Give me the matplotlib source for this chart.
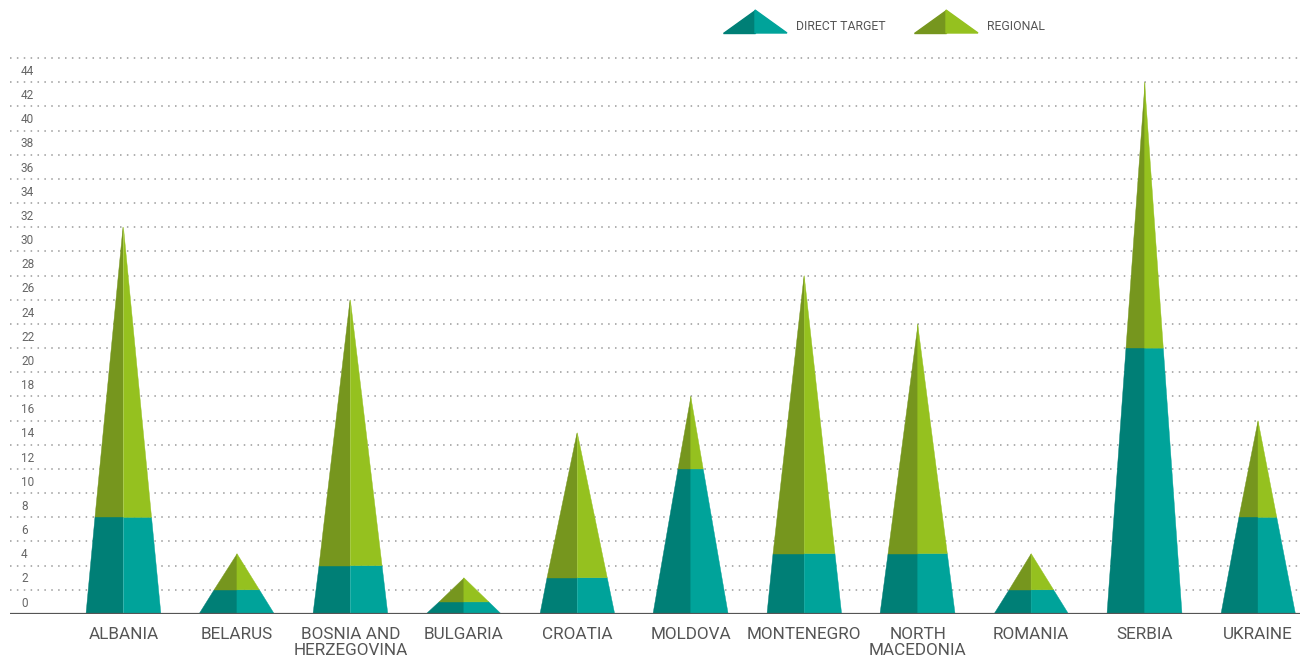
import matplotlib
matplotlib.use("Agg")
import matplotlib.pyplot as plt
import numpy as np

countries = ["ALBANIA", "BELARUS", "BOSNIA AND\nHERZEGOVINA", "BULGARIA", "CROATIA", "MOLDOVA",
             "MONTENEGRO", "NORTH\nMACEDONIA", "ROMANIA", "SERBIA", "UKRAINE"]
direct = [8, 2, 4, 1, 3, 12, 5, 5, 2, 22, 8]
regional = [24, 3, 22, 2, 12, 6, 23, 19, 3, 22, 8]
yticks = list(range(0, 46, 2))

plt.rcParams['font.family'] = ['Roboto', 'DejaVu Sans']

teal_d, teal_l = '#007f76', '#00a39a'
green_d, green_l = '#76961e', '#95c11f'

fig = plt.figure(figsize=(13.08, 6.64), dpi=100)
ax = fig.add_axes([10/1308, 50/664, 1290/1308, 562/664])

w = 0.33
for i in range(len(countries)):
    d = direct[i]
    t = direct[i] + regional[i]
    k = w * (1 - d / t)
    # lower teal trapezoid, upper green triangle; left half darker
    ax.fill([i - w, i, i, i - k], [0, 0, d, d], fc=teal_d, ec=teal_d, lw=0.3)
    ax.fill([i, i + w, i + k, i], [0, 0, d, d], fc=teal_l, ec=teal_l, lw=0.3)
    ax.fill([i - k, i, i], [d, d, t], fc=green_d, ec=green_d, lw=0.3)
    ax.fill([i, i + k, i], [d, d, t], fc=green_l, ec=green_l, lw=0.3)

for v in range(2, 48, 2):
    ax.axhline(v, color='#9a9a9a', lw=1.1, ls=(0, (1, 3.5)), zorder=0)
ax.axhline(0, color='#555555', lw=1.6)

for v in yticks:
    ax.text(0.0085, v + 0.9, str(v), transform=ax.get_yaxis_transform(),
            ha='left', va='center', fontsize=8.5, color='#666666')

for i, c in enumerate(countries):
    ax.text(i, -1.1, c, ha='center', va='top', fontsize=12.3, color='#555555',
            linespacing=1.1)

ax.set_xlim(-1.0, 10.37)
ax.set_ylim(0, 46.5)
ax.axis('off')

# legend
def legend_tri(x0, x1, cd, cl, label):
    xm = (x0 + x1) / 2
    y0, y1 = 1 - 33/664, 1 - 10/664
    fig.patches.append(plt.Polygon([(x0/1308, y0), (xm/1308, y0), (xm/1308, y1)],
                                   closed=True, color=cd, transform=fig.transFigure))
    fig.patches.append(plt.Polygon([(xm/1308, y0), (x1/1308, y0), (xm/1308, y1)],
                                   closed=True, color=cl, transform=fig.transFigure))
    fig.text((x1 + 9)/1308, 1 - 27/664, label, ha='left', va='center',
             fontsize=8.8, color='#555555')

legend_tri(723, 787, teal_d, teal_l, "DIRECT TARGET")
legend_tri(914, 978, green_d, green_l, "REGIONAL")

fig.savefig("out.png", dpi=100)
